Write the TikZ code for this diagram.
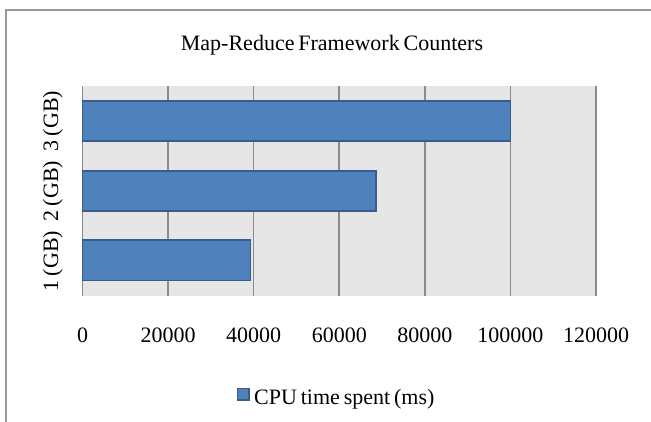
\documentclass[tikz,border=0pt]{standalone}
\usepackage{fontspec}
\setmainfont{Liberation Serif}[WordSpace=0.7]
\definecolor{plotbg}{HTML}{E6E6E6}
\definecolor{gridc}{HTML}{8C8C8C}
\definecolor{barfill}{HTML}{4F81BD}
\definecolor{barline}{HTML}{385D8A}
\definecolor{framec}{HTML}{9A9A9A}
\begin{document}
\begin{tikzpicture}[x=1pt,y=-1pt,
  txt/.style={inner sep=0pt,font=\fontsize{22}{24}\selectfont},
  gridln/.style={draw=gridc,line width=1.6pt},
  barbox/.style={fill=barfill,draw=barline,line width=1.5pt},
  frameln/.style={draw=framec,line width=1.8pt}]
\useasboundingbox (0,0) rectangle (651,421);
% outer frame (cropped at right and bottom)
\draw[frameln] (6.3,425) -- (6.3,9.7) -- (655,9.7);
% title
\node[txt,anchor=base] (title) at (332,50) {Map-Reduce Framework Counters};
% plot area
\fill[plotbg] (82.5,86) rectangle (596,296);
\foreach \i in {0,...,6}{
  \coordinate (gt\i) at ({82.5+\i*85.583},86);
  \coordinate (gb\i) at ({82.5+\i*85.583},296);
  \draw[gridln] (gt\i) -- (gb\i);
}
% bars (values in thousands)
\newcommand{\xv}[1]{82.5+#1*85.583/20}
\draw[barbox] (82.5,101) rectangle ({\xv{100}},141);
\draw[barbox] (82.5,171) rectangle ({\xv{68.6}},211);
\draw[barbox] (82.5,240) rectangle ({\xv{39.3}},280.5);
% category labels
\node[txt,rotate=90,anchor=base] (c3) at (58,121) {3 (GB)};
\node[txt,rotate=90,anchor=base] (c2) at (58,191) {2 (GB)};
\node[txt,rotate=90,anchor=base] (c1) at (58,261) {1 (GB)};
% tick labels
\foreach \i/\v in {0/0,1/20000,2/40000,3/60000,4/80000,5/100000,6/120000}{
  \node[txt,anchor=base] (t\i) at ({82.5+\i*85.583},342) {\v};
}
% legend
\draw[barbox,line width=1.2pt] (237.5,388.5) rectangle (249,400);
\node[txt,anchor=base west] (leg) at (254,404) {CPU time spent (ms)};
\end{tikzpicture}
\end{document}
